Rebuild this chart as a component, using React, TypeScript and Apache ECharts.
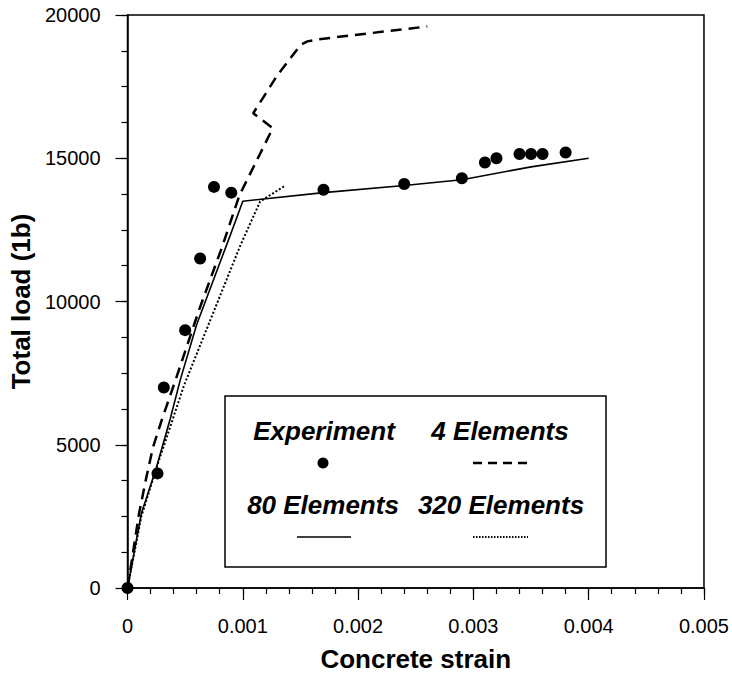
import { useEffect, useRef } from "react";
import * as echarts from "echarts";

const FONT = '"Liberation Sans", Arial, sans-serif';

// Experiment (dots)
const expStrain = [0, 0.00026, 0.000315, 0.0005, 0.00063, 0.00075, 0.0009, 0.0017, 0.0024, 0.0029, 0.0031, 0.0032, 0.0034, 0.0035, 0.0036, 0.0038];
const expLoad = [0, 4000, 7000, 9000, 11500, 14000, 13800, 13900, 14100, 14300, 14850, 15000, 15150, 15150, 15150, 15200];

// 4 Elements (dashed)
const el4Strain = [0, 0.0001, 0.00016, 0.00022, 0.0003, 0.00042, 0.00062, 0.00082, 0.00097, 0.00126, 0.00109, 0.0013, 0.0015, 0.00156, 0.00165, 0.0026];
const el4Load = [0, 2600, 3800, 4900, 5900, 7300, 9700, 11900, 13700, 16050, 16570, 17900, 18950, 19080, 19150, 19600];

// 80 Elements (solid)
const el80Strain = [0, 0.00012, 0.00025, 0.00037, 0.00046, 0.0006, 0.00089, 0.001, 0.0017, 0.0024, 0.0029, 0.0035, 0.004];
const el80Load = [0, 2600, 4200, 5900, 7300, 9200, 12300, 13500, 13800, 14050, 14250, 14700, 15000];

// 320 Elements (dotted)
const el320Strain = [0, 0.00012, 0.00026, 0.00049, 0.0007, 0.00098, 0.00115, 0.00137];
const el320Load = [0, 2500, 4300, 7070, 9170, 11970, 13490, 14050];

const xTicks = { min: 0, max: 0.005, interval: 0.001, minor: 0.0002 };
const yTicks = { min: 0, max: 20000, interval: 5000, minor: 1250 };

const zip = (xs: number[], ys: number[]) => xs.map((x, i) => [x, ys[i]]);

export default function App() {
  const ref = useRef<HTMLDivElement>(null);
  useEffect(() => {
    const chart = echarts.init(ref.current!, null, { renderer: "svg" });
    const legendFont = `italic bold 26px ${FONT}`;
    const tickLine = { color: "#000", width: 1.2 };
    chart.setOption({
      animation: false,
      backgroundColor: "#fff",
      grid: { left: 127, right: 27, top: 15, bottom: 88, show: true, borderColor: "#000", borderWidth: 1.5 },
      xAxis: [
        {
          type: "value",
          position: "bottom",
          min: xTicks.min,
          max: xTicks.max,
          interval: xTicks.interval,
          name: "Concrete strain",
          nameLocation: "middle",
          nameGap: 58,
          nameTextStyle: { fontFamily: FONT, fontWeight: "bold", fontSize: 26, color: "#000" },
          axisLine: { lineStyle: { color: "#000", width: 1.5 } },
          axisTick: { show: true, length: 12, lineStyle: tickLine },
          splitLine: { show: false },
          axisLabel: {
            fontFamily: FONT,
            fontSize: 20,
            color: "#000",
            margin: 28,
            formatter: (v: number) => (v === 0 ? "0" : v.toFixed(3)),
          },
        },
        {
          type: "value",
          position: "bottom",
          offset: 0,
          min: xTicks.min,
          max: xTicks.max,
          interval: xTicks.minor,
          axisLine: { show: false },
          axisTick: { show: true, length: 6, lineStyle: tickLine },
          axisLabel: { show: false },
          splitLine: { show: false },
        },
      ],
      yAxis: [
        {
          type: "value",
          position: "left",
          min: yTicks.min,
          max: yTicks.max,
          interval: yTicks.interval,
          name: "Total load (1b)",
          nameLocation: "middle",
          nameRotate: 90,
          nameGap: 85,
          nameTextStyle: { fontFamily: FONT, fontWeight: "bold", fontSize: 26, color: "#000" },
          axisLine: { lineStyle: { color: "#000", width: 1.5 } },
          axisTick: { show: true, length: 12, lineStyle: tickLine },
          splitLine: { show: false },
          axisLabel: { fontFamily: FONT, fontSize: 20, color: "#000", margin: 27, formatter: (v: number) => String(v) },
        },
        {
          type: "value",
          position: "left",
          offset: 0,
          min: yTicks.min,
          max: yTicks.max,
          interval: yTicks.minor,
          axisLine: { show: false },
          axisTick: { show: true, length: 6, lineStyle: tickLine },
          axisLabel: { show: false },
          splitLine: { show: false },
        },
      ],
      series: [
        {
          name: "4 Elements",
          type: "line",
          data: zip(el4Strain, el4Load),
          showSymbol: false,
          symbol: "none",
          lineStyle: { color: "#000", width: 2.5, type: [11, 7] },
        },
        {
          name: "80 Elements",
          type: "line",
          data: zip(el80Strain, el80Load),
          showSymbol: false,
          symbol: "none",
          lineStyle: { color: "#000", width: 1.6, type: "solid" },
        },
        {
          name: "320 Elements",
          type: "line",
          data: zip(el320Strain, el320Load),
          showSymbol: false,
          symbol: "none",
          lineStyle: { color: "#000", width: 2, type: [2, 2] },
        },
        {
          name: "Experiment",
          type: "scatter",
          data: zip(expStrain, expLoad),
          symbol: "circle",
          symbolSize: 12,
          itemStyle: { color: "#000", opacity: 1 },
        },
      ],
      graphic: [
        {
          type: "group",
          children: [
            { type: "rect", shape: { x: 225, y: 396, width: 381, height: 171 }, style: { fill: "#fff", stroke: "#000", lineWidth: 1.5 } },
            { type: "text", x: 324, y: 431, style: { text: "Experiment", font: legendFont, fill: "#000", textAlign: "center", textVerticalAlign: "middle" } },
            { type: "text", x: 500, y: 431, style: { text: "4 Elements", font: legendFont, fill: "#000", textAlign: "center", textVerticalAlign: "middle" } },
            { type: "text", x: 323, y: 505, style: { text: "80 Elements", font: legendFont, fill: "#000", textAlign: "center", textVerticalAlign: "middle" } },
            { type: "text", x: 501, y: 505, style: { text: "320 Elements", font: legendFont, fill: "#000", textAlign: "center", textVerticalAlign: "middle" } },
            { type: "circle", shape: { cx: 323, cy: 463, r: 5.5 }, style: { fill: "#000" } },
            { type: "line", shape: { x1: 473, y1: 463, x2: 528, y2: 463 }, style: { stroke: "#000", lineWidth: 2.5, lineDash: [9, 6] } },
            { type: "line", shape: { x1: 297, y1: 537, x2: 351, y2: 537 }, style: { stroke: "#000", lineWidth: 1.6 } },
            { type: "line", shape: { x1: 473, y1: 537, x2: 528, y2: 537 }, style: { stroke: "#000", lineWidth: 1.8, lineDash: [1.5, 1.5] } },
          ],
        },
      ],
    });
    return () => chart.dispose();
  }, []);
  return <div ref={ref} style={{ position: "fixed", left: 0, top: 0, width: 732, height: 677, background: "#fff" }} />;
}
